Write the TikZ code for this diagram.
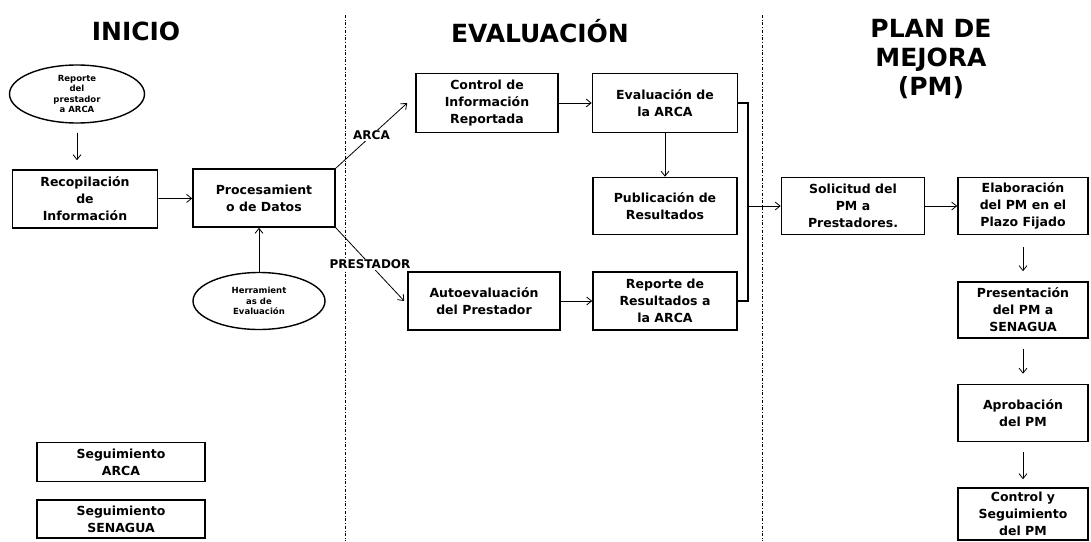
\documentclass[tikz,border=0pt]{standalone}
\usepackage{fontspec}
\setmainfont{DejaVu Sans}
\usetikzlibrary{shapes.geometric,arrows.meta}

\begin{document}
\begin{tikzpicture}[x=1pt, y=-1pt,
  every node/.style={font=\bfseries\fontsize{12.5}{17}\selectfont, align=center},
  caja/.style={rectangle, draw, line width=1.6pt, inner sep=2pt},
  nube/.style={ellipse, draw, line width=1.4pt, inner sep=0pt, font=\bfseries\fontsize{8.5}{10.5}\selectfont},
  titulo/.style={font=\bfseries\fontsize{25}{29}\selectfont},
  flecha/.style={-{Straight Barb[length=5pt,width=8pt]}, line width=0.8pt},
  etiqueta/.style={fill=white, inner sep=1pt, font=\bfseries\fontsize{12}{14}\selectfont},
  fase/.style={dash dot, line width=0.7pt}]

\useasboundingbox (0,0) rectangle (1091,541);

% separadores
\coordinate (s1a) at (345,15);
\coordinate (s1b) at (345,541);
\coordinate (s2a) at (762,15);
\coordinate (s2b) at (762,541);
\draw[fase] (s1a) -- (s1b);
\draw[fase] (s2a) -- (s2b);

\node[titulo] (inicio) at (136,31) {INICIO};
\node[titulo] (evaluacion) at (540,31) {EVALUACIÓN};
\node[titulo] (plan) at (931,59) {PLAN DE\\MEJORA\\(PM)};

% inicio
\node[nube, minimum width=135, minimum height=58] (repo) at (77,94) {Reporte\\del\\prestador\\a ARCA};
\node[caja, minimum width=145, minimum height=58] (recop) at (85,199) {Recopilación\\de\\Información};
\node[caja, minimum width=142, minimum height=58] (proc) at (264,198) {Procesamient\\o de Datos};
\node[nube, minimum width=132, minimum height=57] (herr) at (259,301) {Herramient\\as de\\Evaluación};
\node[caja, minimum width=168, minimum height=39] (segA) at (121,462) {Seguimiento\\ARCA};
\node[caja, minimum width=168, minimum height=38] (segS) at (121,519) {Seguimiento\\SENAGUA};

% evaluacion
\node[caja, minimum width=142, minimum height=59] (ctrl) at (487,103) {Control de\\Información\\Reportada};
\node[caja, minimum width=145, minimum height=59] (evalu) at (665,103) {Evaluación de\\la ARCA};
\node[caja, minimum width=144, minimum height=57] (publ) at (665,206) {Publicación de\\Resultados};
\node[caja, minimum width=152, minimum height=58] (auto) at (484,301) {Autoevaluación\\del Prestador};
\node[caja, minimum width=144, minimum height=58] (repres) at (665,301) {Reporte de\\Resultados a\\la ARCA};

% plan de mejora
\node[caja, minimum width=143, minimum height=57] (soli) at (853,206) {Solicitud del\\PM a\\Prestadores.};
\node[caja, minimum width=130, minimum height=57] (elab) at (1023,206) {Elaboración\\del PM en el\\Plazo Fijado};
\node[caja, minimum width=130, minimum height=56] (pres) at (1023,310) {Presentación\\del PM a\\SENAGUA};
\node[caja, minimum width=130, minimum height=57] (apro) at (1023,413) {Aprobación\\del PM};
\node[caja, minimum width=130, minimum height=52] (contr) at (1023,514) {Control y\\Seguimiento\\del PM};

\coordinate (b1) at (748,103);
\coordinate (b2) at (748,301);
\coordinate (bm) at (748,206);

% flechas
\draw[flecha, shorten <=9pt, shorten >=9pt] (repo.south) -- (repo.south |- recop.north);
\draw[flecha] (recop) -- (proc);
\draw[flecha] (herr.north) -- (herr.north |- proc.south);
\draw[flecha] (proc.north east) -- node[etiqueta] {ARCA} ([xshift=-8pt]ctrl.west);
\draw[flecha] (proc.south east) -- node[etiqueta] {PRESTADOR} ([xshift=-3pt]auto.west);
\draw[flecha] (ctrl) -- (evalu);
\draw[flecha] (evalu) -- (publ);
\draw[flecha] (auto) -- (repres);
\draw[line width=1.6pt] (evalu.east) -- (b1) -- (b2) -- (repres.east);
\draw[flecha] (bm) -- (soli);
\draw[flecha] (soli) -- (elab);
\draw[flecha, shorten <=12pt, shorten >=10pt] (elab) -- (pres);
\draw[flecha, shorten <=10pt, shorten >=10pt] (pres) -- (apro);
\draw[flecha, shorten <=10pt, shorten >=8pt] (apro) -- (contr);

\end{tikzpicture}
\end{document}
